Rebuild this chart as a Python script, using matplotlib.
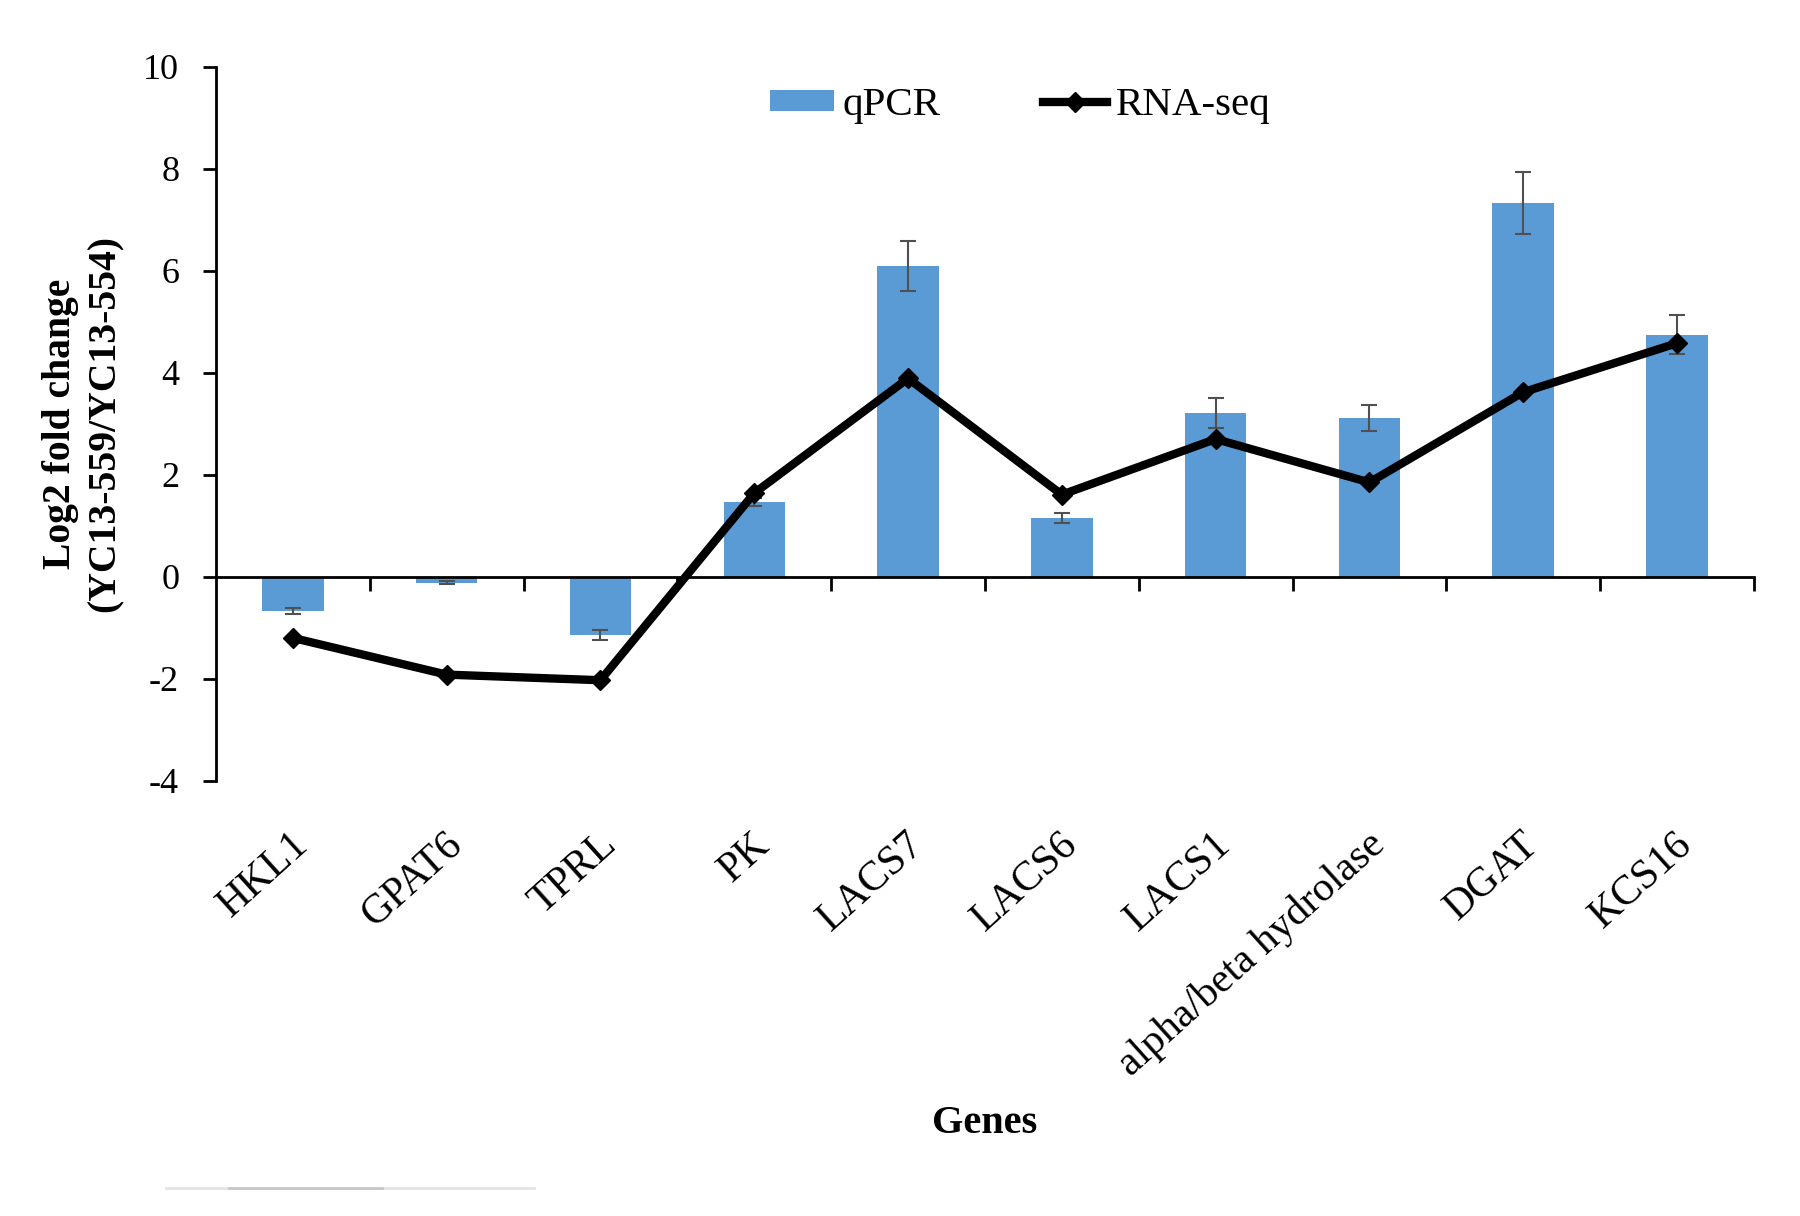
import matplotlib
matplotlib.use("Agg")
import matplotlib.pyplot as plt
import numpy as np
from matplotlib.patches import Patch
from matplotlib.lines import Line2D

plt.rcParams['font.family'] = ['Liberation Serif', 'DejaVu Serif']
plt.rcParams['axes.unicode_minus'] = False

genes = ["HKL1", "GPAT6", "TPRL", "PK", "LACS7", "LACS6", "LACS1",
         "alpha/beta hydrolase", "DGAT", "KCS16"]
qpcr = [-0.68, -0.12, -1.15, 1.46, 6.10, 1.15, 3.21, 3.11, 7.33, 4.75]
qpcr_err = [0.06, 0.03, 0.10, 0.08, 0.49, 0.10, 0.29, 0.26, 0.60, 0.39]
rnaseq = [-1.20, -1.92, -2.03, 1.64, 3.89, 1.61, 2.70, 1.85, 3.62, 4.58]
yticks = [-4, -2, 0, 2, 4, 6, 8, 10]

fig = plt.figure(figsize=(18, 12.16), dpi=100)
ax = fig.add_axes([0.12, 0.358, 0.8544, 0.587])

x = np.arange(len(genes))
ax.bar(x, qpcr, width=0.4, color='#5B9BD5', zorder=2)
ax.errorbar(x, qpcr, yerr=qpcr_err, fmt='none', ecolor='#505050',
            elinewidth=1.5, capsize=6, capthick=1.5, zorder=3)
ax.plot(x, rnaseq, color='black', lw=6, marker='D', markersize=10.5,
        zorder=4)

ax.set_xlim(-0.5, len(genes) - 0.5)
ax.set_ylim(-4, 10)
ax.set_yticks(yticks)
ax.set_yticklabels([str(t) for t in yticks], fontsize=26)

# category axis at zero with ticks on category boundaries
ax.spines['bottom'].set_position(('data', 0))
ax.spines['top'].set_visible(False)
ax.spines['right'].set_visible(False)
ax.spines['left'].set_linewidth(2)
ax.spines['bottom'].set_linewidth(2)
ax.set_xticks(np.arange(0.5, len(genes), 1.0))
ax.set_xticklabels([])
ax.tick_params(axis='x', direction='out', length=10, width=2)
ax.tick_params(axis='y', direction='out', length=9.5, width=2, pad=17)

for i, g in enumerate(genes):
    ax.annotate(g, xy=(i, -4), xycoords='data', xytext=(-2, -32),
                textcoords='offset points', rotation=42, ha='right',
                va='top', rotation_mode='anchor', fontsize=30)

ax.set_ylabel("Log2 fold change\n(YC13-559/YC13-554)", fontsize=28.5,
              fontweight='bold', linespacing=1.28)
ax.yaxis.set_label_coords(-0.06, 0.5)
ax.set_xlabel("Genes", fontsize=29, fontweight='bold')
ax.xaxis.set_label_coords(0.5, -0.454)

handles = [Patch(facecolor='#5B9BD5', edgecolor='none', label='qPCR'),
           Line2D([0], [0], color='black', lw=6, marker='D', markersize=10.5,
                  label='RNA-seq')]
ax.legend(handles=handles, loc='center', bbox_to_anchor=(0.523, 0.946),
          ncol=2, frameon=False, fontsize=29.5, handlelength=1.56,
          handleheight=0.42, handletextpad=0.22, columnspacing=2.5)

# faint scan line near the bottom-left of the original image
fig.add_artist(Line2D([166 / 1800, 534 / 1800], [1 - 1188 / 1216] * 2,
                      color='#e3e3e3', lw=2))
fig.add_artist(Line2D([229 / 1800, 382 / 1800], [1 - 1188 / 1216] * 2,
                      color='#c8c8c8', lw=2))

fig.savefig("out.png", dpi=100, facecolor='white')
